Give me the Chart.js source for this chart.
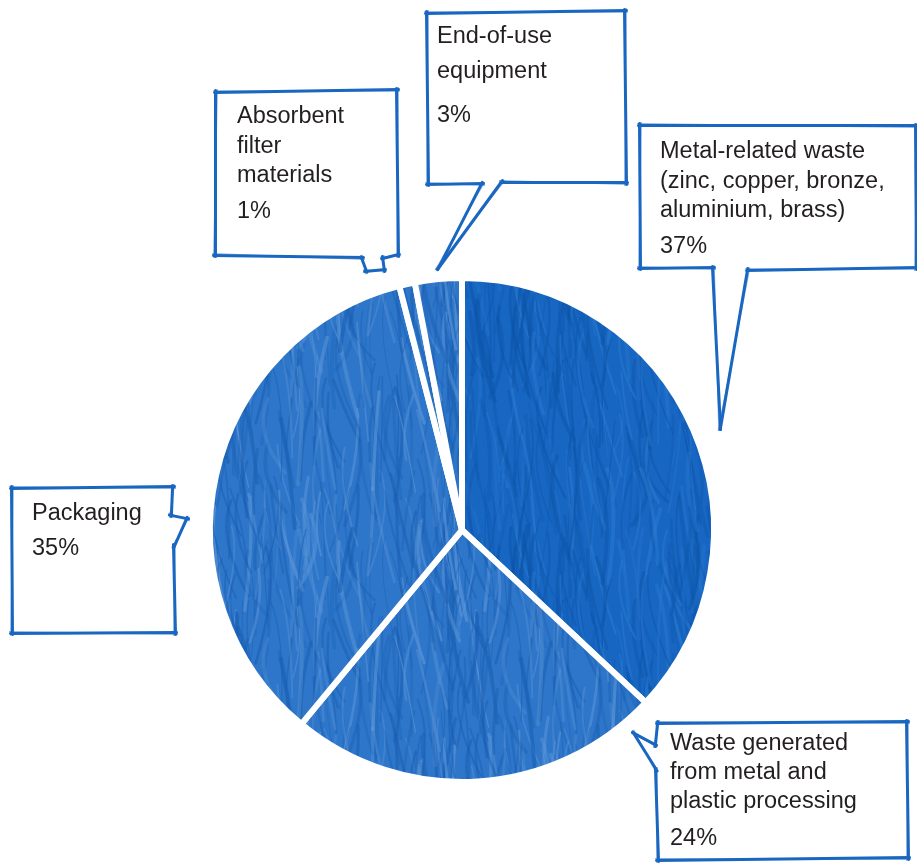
<!DOCTYPE html>
<html lang="en">
<head>
  <meta charset="UTF-8" />
  <title>Waste breakdown</title>
  <script src="https://cdn.jsdelivr.net/npm/chart.js"></script>
  <style>
    body { margin: 0; background: #fff; }
    #wrap { position: relative; width: 917px; height: 867px; overflow: hidden; }
    #pie { position: absolute; left: 0; top: 0; }
    .note { position: absolute; font-family: "Liberation Sans", Arial, sans-serif; font-size: 23.5px; color: #231f20; white-space: nowrap; }
  </style>
</head>
<body>
  <div id="wrap">
    <canvas id="pie" width="917" height="867"></canvas>
  </div>

  <script>
    // data, clockwise from 12 o'clock
    const categories = [
      'Metal-related waste (zinc, copper, bronze, aluminium, brass)',
      'Waste generated from metal and plastic processing',
      'Packaging',
      'Absorbent filter materials',
      'End-of-use equipment'
    ];
    const shares = [37, 24, 35, 1, 3];
    const labelLines = [
      ['Metal-related waste', '(zinc, copper, bronze,', 'aluminium, brass)'],
      ['Waste generated', 'from metal and', 'plastic processing'],
      ['Packaging'],
      ['Absorbent', 'filter', 'materials'],
      ['End-of-use', 'equipment']
    ];

    // callout layout: box outline (with tail), text spot, line height, percent top
    const callouts = [
      { pts: [[640,125],[916,126],[916,268],[748,270],[720,428],[713,268],[640,268]], x: 660, y: 137, lh: 29.5, py: 232 },
      { pts: [[658,723],[907,722],[908,858],[658,860],[656,770],[634,733],[655,745]], x: 670, y: 729, lh: 29, py: 824 },
      { pts: [[12,488],[173,487],[171,515],[187,519],[174,546],[175,633],[12,633]], x: 32, y: 499, lh: 30, py: 534 },
      { pts: [[216,92],[397,90],[398,255],[383,258],[384,270],[366,271],[362,258],[215,255]], x: 237, y: 102, lh: 29.5, py: 197 },
      { pts: [[427,13],[625,11],[626,183],[502,182],[438,268],[482,184],[428,184]], x: 437, y: 22, lh: 35, py: 101 }
    ];

    const canvas = document.getElementById('pie');
    const ctx = canvas.getContext('2d');

    // scribbly crayon texture for the slices (strokes wrap so the tile has no seams)
    function texture(base, dark, light, seed) {
      const T = 240;
      const c = document.createElement('canvas');
      c.width = T; c.height = T;
      const g = c.getContext('2d');
      g.fillStyle = base;
      g.fillRect(0, 0, T, T);
      let s = seed;
      const rnd = () => (s = (s * 16807) % 2147483647) / 2147483647;
      g.lineCap = 'round';
      for (let i = 0; i < 170; i++) {
        const col = i % 3 === 0 ? light : dark;
        const alpha = 0.25 + rnd() * 0.35;
        const w = 1 + rnd() * 3;
        const x = rnd() * T, y = rnd() * T;
        const cx = x + rnd() * 30 - 15, ex = x + rnd() * 40 - 14, ey = y + 60 + rnd() * 60;
        for (let ox = -T; ox <= T; ox += T) {
          for (let oy = -T; oy <= T; oy += T) {
            g.strokeStyle = col;
            g.globalAlpha = alpha;
            g.lineWidth = w;
            g.beginPath();
            g.moveTo(x + ox, y + oy);
            g.quadraticCurveTo(cx + ox, y + 35 + oy, ex + ox, ey + oy);
            g.stroke();
          }
        }
      }
      return ctx.createPattern(c, 'repeat');
    }

    const darkFill = texture('#1766c2', '#0d55a8', '#2b79d0', 11);
    const lightFill = texture('#2e76c9', '#195fb2', '#5f98d9', 29);
    const sliceFills = [darkFill, lightFill, lightFill, lightFill, lightFill];

    function sketchLine(g, a, b, k, ext) {
      const dx = b[0] - a[0], dy = b[1] - a[1];
      const len = Math.hypot(dx, dy) || 1;
      const ux = dx / len, uy = dy / len;
      const ox = -uy * k, oy = ux * k;
      g.beginPath();
      g.moveTo(a[0] - ux * ext + ox, a[1] - uy * ext + oy);
      g.lineTo(b[0] + ux * ext - ox, b[1] + uy * ext - oy);
      g.stroke();
    }

    const calloutPlugin = {
      id: 'callouts',
      afterDraw(chart) {
        const g = chart.ctx;
        g.save();
        g.strokeStyle = '#1a67c1';
        callouts.forEach(c => {
          const p = c.pts;
          for (let i = 0; i < p.length; i++) {
            const a = p[i], b = p[(i + 1) % p.length];
            g.lineCap = 'round';
            g.lineWidth = 3;
            g.globalAlpha = 1;
            sketchLine(g, a, b, 0.5, 1.5);
            g.lineCap = 'butt';
            g.lineWidth = 1.2;
            g.globalAlpha = 0.5;
            sketchLine(g, a, b, -1.3, 3);
          }
        });
        g.restore();
      }
    };

    new Chart(ctx, {
      type: 'pie',
      data: {
        labels: categories,
        datasets: [{
          data: shares,
          backgroundColor: sliceFills,
          borderColor: '#ffffff',
          borderWidth: 6,
          borderAlign: 'center'
        }]
      },
      options: {
        responsive: false,
        animation: false,
        layout: { padding: { left: 207, right: 200, top: 275, bottom: 82 } },
        plugins: {
          legend: { display: false },
          tooltip: { enabled: false }
        }
      },
      plugins: [calloutPlugin]
    });

    // callout texts
    const wrap = document.getElementById('wrap');
    callouts.forEach((c, i) => {
      labelLines[i].forEach((line, j) => {
        const d = document.createElement('div');
        d.className = 'note';
        d.style.left = c.x + 'px';
        d.style.top = (c.y + j * c.lh) + 'px';
        d.textContent = line;
        wrap.appendChild(d);
      });
      const p = document.createElement('div');
      p.className = 'note';
      p.style.left = c.x + 'px';
      p.style.top = c.py + 'px';
      p.textContent = shares[i] + '%';
      wrap.appendChild(p);
    });
  </script>
</body>
</html>
